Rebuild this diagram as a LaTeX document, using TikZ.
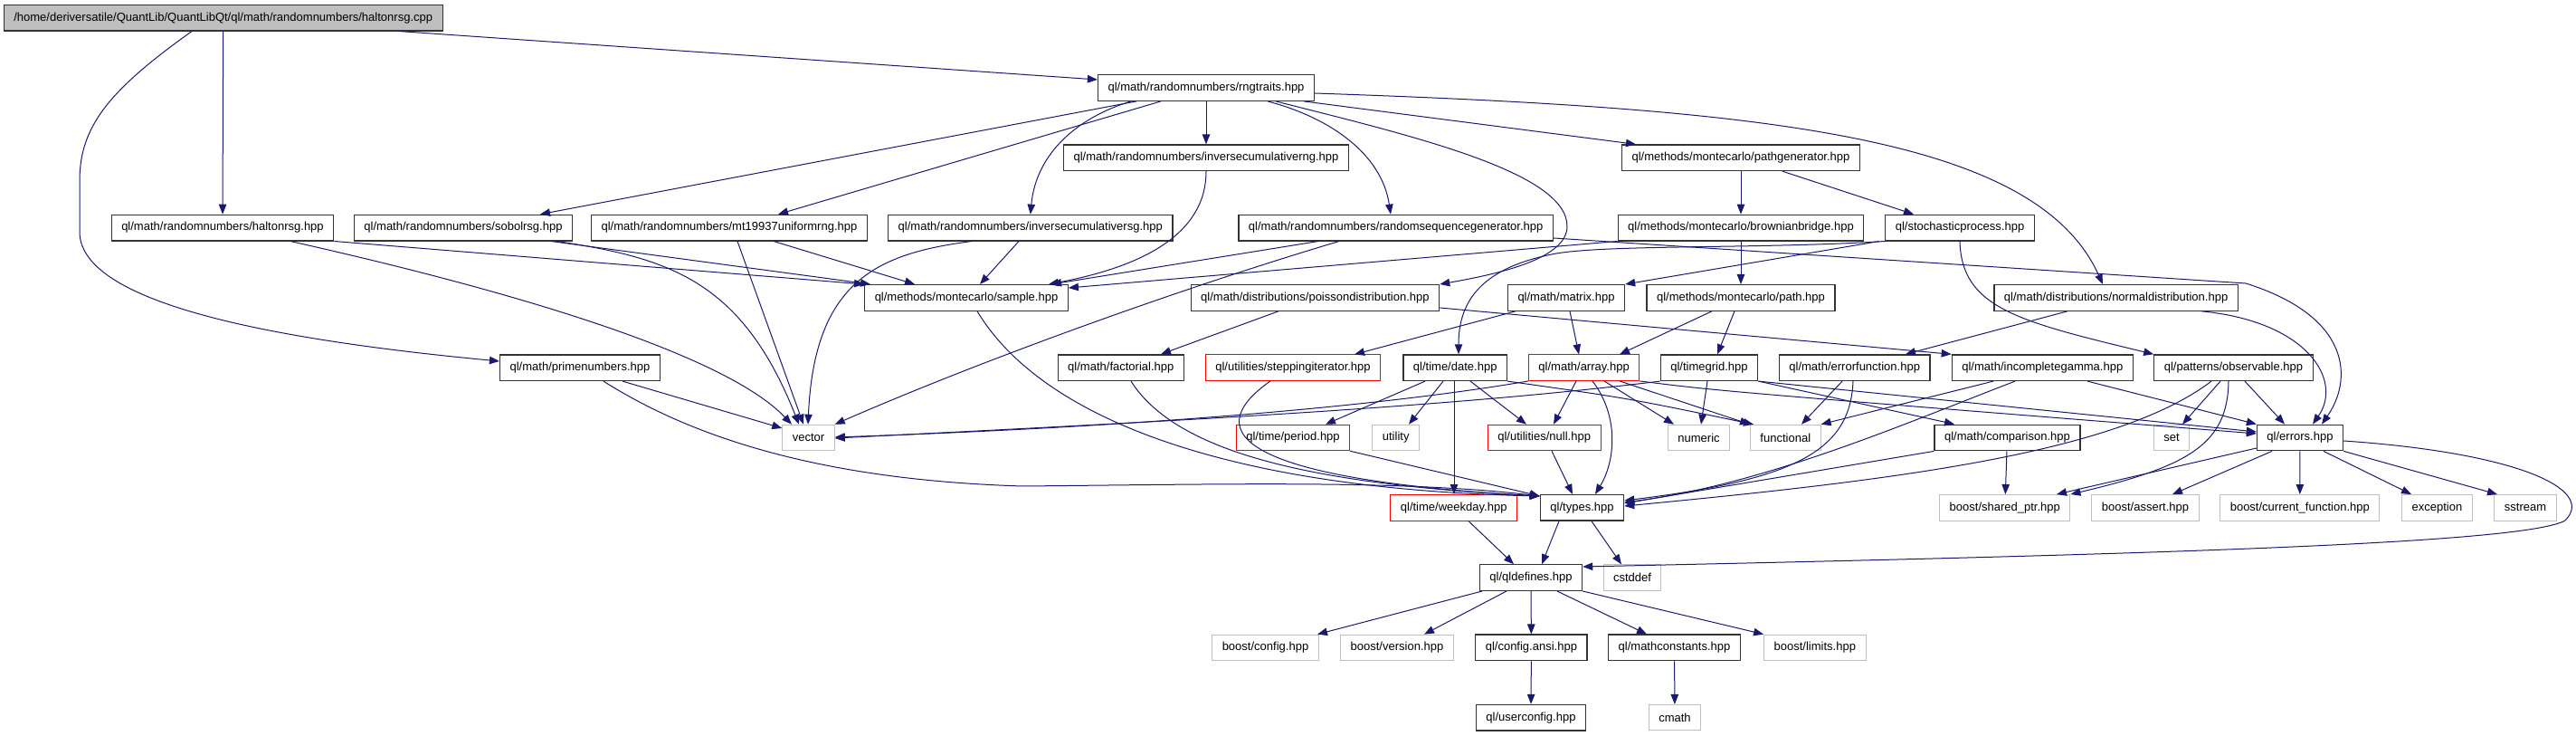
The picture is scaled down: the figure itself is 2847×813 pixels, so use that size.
\documentclass[tikz,border=0pt]{standalone}
\usepackage{fontspec}
\setmainfont{Liberation Sans}
\usetikzlibrary{arrows.meta}
\definecolor{edgeblue}{HTML}{191970}
\definecolor{sysgray}{HTML}{BFBFBF}

\begin{document}
\begin{tikzpicture}[
  x=0.01cm, y=-0.01cm,
  box/.style={draw=black!80, line width=0.013cm, rectangle, fill=white, minimum height=0.285cm, inner xsep=0.11cm, inner ysep=0pt, font=\fontsize{3.7pt}{4pt}\selectfont},
  sys/.style={box, draw=sysgray, line width=0.01cm},
  trunc/.style={box, draw=red, line width=0.01cm},
  rootbox/.style={box, fill=sysgray},
  arrow/.style={draw=edgeblue, line width=0.01cm, -{Triangle[length=0.11cm, width=0.085cm]}}
]
  \useasboundingbox (0,0) rectangle (2847,813);

  \node (root) [rootbox] at (246.7,19.7) {/home/deriversatile/QuantLib/QuantLibQt/ql/math/randomnumbers/haltonrsg.cpp};
  \node (rng) [box] at (1333,97) {ql/math/randomnumbers/rngtraits.hpp};
  \node (icrng) [box] at (1333,174.3) {ql/math/randomnumbers/inversecumulativerng.hpp};
  \node (pathgen) [box] at (1924,174.3) {ql/methods/montecarlo/pathgenerator.hpp};

  \node (halton) [box] at (246,251.6) {ql/math/randomnumbers/haltonrsg.hpp};
  \node (sobol) [box] at (512,251.6) {ql/math/randomnumbers/sobolrsg.hpp};
  \node (mt) [box] at (806,251.6) {ql/math/randomnumbers/mt19937uniformrng.hpp};
  \node (icrsg) [box] at (1138.8,251.6) {ql/math/randomnumbers/inversecumulativersg.hpp};
  \node (rsg) [box] at (1542.7,251.6) {ql/math/randomnumbers/randomsequencegenerator.hpp};
  \node (bridge) [box] at (1924,251.6) {ql/methods/montecarlo/brownianbridge.hpp};
  \node (stoch) [box] at (2166,251.6) {ql/stochasticprocess.hpp};

  \node (sample) [box] at (1068,328.9) {ql/methods/montecarlo/sample.hpp};
  \node (poisson) [box] at (1453.4,328.9) {ql/math/distributions/poissondistribution.hpp};
  \node (matrix) [box] at (1731,328.9) {ql/math/matrix.hpp};
  \node (path) [box] at (1924,328.9) {ql/methods/montecarlo/path.hpp};
  \node (normal) [box] at (2338.6,328.9) {ql/math/distributions/normaldistribution.hpp};

  \node (prime) [box] at (641,406.2) {ql/math/primenumbers.hpp};
  \node (factorial) [box] at (1238.8,406.2) {ql/math/factorial.hpp};
  \node (stepping) [trunc] at (1429,406.2) {ql/utilities/steppingiterator.hpp};
  \node (date) [box] at (1608.2,406.2) {ql/time/date.hpp};
  \node (array) [trunc] at (1750.6,406.2) {ql/math/array.hpp};
  \node (timegrid) [box] at (1889,406.2) {ql/timegrid.hpp};
  \node (erf) [box] at (2049.7,406.2) {ql/math/errorfunction.hpp};
  \node (incgamma) [box] at (2257.3,406.2) {ql/math/incompletegamma.hpp};
  \node (observable) [box] at (2468.5,406.2) {ql/patterns/observable.hpp};

  \node (vector) [sys] at (893.5,483.5) {vector};
  \node (period) [trunc] at (1429,483.5) {ql/time/period.hpp};
  \node (utility) [sys] at (1542.7,483.5) {utility};
  \node (null) [trunc] at (1706.7,483.5) {ql/utilities/null.hpp};
  \node (numeric) [sys] at (1877.5,483.5) {numeric};
  \node (functional) [sys] at (1973.3,483.5) {functional};
  \node (comparison) [box] at (2218.5,483.5) {ql/math/comparison.hpp};
  \node (set) [sys] at (2400,483.5) {set};
  \node (errors) [box] at (2542,483.5) {ql/errors.hpp};

  \node (weekday) [trunc] at (1606.7,560.8) {ql/time/weekday.hpp};
  \node (types) [box] at (1748.5,560.8) {ql/types.hpp};
  \node (sharedptr) [sys] at (2215.8,560.8) {boost/shared\_ptr.hpp};
  \node (assert) [sys] at (2371,560.8) {boost/assert.hpp};
  \node (curfunc) [sys] at (2541.8,560.8) {boost/current\_function.hpp};
  \node (exception) [sys] at (2693.4,560.8) {exception};
  \node (sstream) [sys] at (2791,560.8) {sstream};

  \node (qldefines) [box] at (1692,638.1) {ql/qldefines.hpp};
  \node (cstddef) [sys] at (1804,638.1) {cstddef};

  \node (bconfig) [sys] at (1398.5,715.4) {boost/config.hpp};
  \node (bversion) [sys] at (1544,715.4) {boost/version.hpp};
  \node (configansi) [box] at (1692.4,715.4) {ql/config.ansi.hpp};
  \node (mathconst) [box] at (1850.5,715.4) {ql/mathconstants.hpp};
  \node (blimits) [sys] at (2005.8,715.4) {boost/limits.hpp};

  \node (userconfig) [box] at (1692,792.7) {ql/userconfig.hpp};
  \node (cmath) [sys] at (1851,792.7) {cmath};

  \draw [arrow] (root) -- (halton);
  \draw [arrow] (212,0 |- root.south) .. controls (120,100) and (88,140) .. (88,200) -- (88,256) .. controls (88,340) and (330,378) .. (prime.west |- 0,399);
  \draw [arrow] (442,0 |- root.south) -- (rng.west |- 0,88);

  \draw [arrow] (1256,0 |- rng.south) -- (597,0 |- sobol.north);
  \draw [arrow] (1283,0 |- rng.south) -- (860,0 |- mt.north);
  \draw [arrow] (1250,0 |- rng.south) .. controls (1190,130) and (1145,170) .. (icrsg.north);
  \draw [arrow] (rng) -- (icrng);
  \draw [arrow] (1401,0 |- rng.south) .. controls (1470,130) and (1527,170) .. (1537,0 |- rsg.north);
  \draw [arrow] (1410,0 |- rng.south) .. controls (1560,150) and (1732,190) .. (1732,250) .. controls (1732,285) and (1660,302) .. (poisson.north east);
  \draw [arrow] (1441,0 |- rng.south) -- (1808,0 |- pathgen.north);
  \draw [arrow] (rng.east |- 0,103) .. controls (1950,120) and (2250,150) .. (2324,0 |- normal.north);

  \draw [arrow] (halton.south east) -- (sample.north west);
  \draw [arrow] (321,0 |- halton.south) .. controls (560,320) and (800,390) .. (875,0 |- vector.north);
  \draw [arrow] (609,0 |- sobol.south) -- (962,0 |- sample.north);
  \draw [arrow] (615,0 |- sobol.south) .. controls (740,285) and (820,310) .. (883,0 |- vector.north);
  \draw [arrow] (815,0 |- mt.south) -- (888,0 |- vector.north);
  \draw [arrow] (855,0 |- mt.south) -- (1011,0 |- sample.north);
  \draw [arrow] (1126,0 |- icrsg.south) -- (1083,0 |- sample.north);
  \draw [arrow] (1074,0 |- icrsg.south) .. controls (970,280) and (900,310) .. (893,0 |- vector.north);
  \draw [arrow] (icrng.south) .. controls (1333,260) and (1260,295) .. (1159,0 |- sample.north);
  \draw [arrow] (1457,0 |- rsg.south) -- (1162,0 |- sample.north);
  \draw [arrow] (1480,0 |- rsg.south) .. controls (1300,320) and (1080,400) .. (vector.north east);
  \draw [arrow] (rsg.east |- 0,263) -- (2482,313) .. controls (2600,350) and (2600,420) .. (2566,0 |- errors.north);
  \draw [arrow] (bridge.south west) -- (sample.east |- 0,318);
  \draw [arrow] (pathgen) -- (bridge);
  \draw [arrow] (bridge) -- (path);
  \draw [arrow] (1970,0 |- pathgen.south) -- (2115,0 |- stoch.north);
  \draw [arrow] (2077,0 |- stoch.south) -- (matrix.north east);
  \draw [arrow] (stoch.south west) .. controls (1950,275) and (1780,270) .. (1720,280) .. controls (1640,295) and (1612,330) .. (1612,0 |- date.north);
  \draw [arrow] (stoch.south) .. controls (2168,340) and (2230,355) .. (observable.north west);

  \draw [arrow] (2285,0 |- normal.south) -- (2106,0 |- erf.north);
  \draw [arrow] (2433,0 |- normal.south) .. controls (2550,355) and (2590,420) .. (2556,0 |- errors.north);
  \draw [arrow] (1413,0 |- poisson.south) -- (1283,0 |- factorial.north);
  \draw [arrow] (poisson.east |- 0,340) -- (incgamma.north west);
  \draw [arrow] (1675,0 |- matrix.south) -- (1497,0 |- stepping.north);
  \draw [arrow] (1735,0 |- matrix.south) -- (1745,0 |- array.north);
  \draw [arrow] (1892,0 |- path.south) -- (1790,0 |- array.north);
  \draw [arrow] (1917,0 |- path.south) -- (1898,0 |- timegrid.north);

  \draw [arrow] (1080,0 |- sample.south) .. controls (1150,460) and (1350,540) .. (types.west |- 0,548);
  \draw [arrow] (1250,0 |- factorial.south) .. controls (1300,500) and (1450,535) .. (types.west |- 0,548);
  \draw [arrow] (1404,0 |- stepping.south) .. controls (1320,480) and (1380,530) .. (types.west |- 0,548);
  \draw [arrow] (667,0 |- prime.south) .. controls (760,480) and (900,530) .. (1130,537) .. controls (1350,535) and (1550,530) .. (types.west |- 0,548);
  \draw [arrow] (688,0 |- prime.south) -- (vector.west |- 0,473);
  \draw [arrow] (period.south east) -- (types.west |- 0,548);
  \draw [arrow] (1715,0 |- null.south) -- (1738,0 |- types.north);
  \draw [arrow] (1760,0 |- array.south) .. controls (1790,460) and (1785,510) .. (1763,0 |- types.north);
  \draw [arrow] (2048,0 |- erf.south) .. controls (2045,500) and (1980,530) .. (types.east |- 0,553);
  \draw [arrow] (2227,0 |- incgamma.south) .. controls (2100,470) and (1950,535) .. (types.east |- 0,555);
  \draw [arrow] (comparison.south west) -- (types.east |- 0,556);
  \draw [arrow] (2444,0 |- observable.south) .. controls (2340,500) and (2100,530) .. (types.east |- 0,559);

  \draw [arrow] (2036,0 |- erf.south) -- (1991,0 |- functional.north);
  \draw [arrow] (2203,0 |- incgamma.south) -- (functional.north east);
  \draw [arrow] (2307,0 |- incgamma.south) -- (errors.north west);
  \draw [arrow] (comparison) -- (sharedptr);
  \draw [arrow] (timegrid.south east) -- (2160,0 |- comparison.north);
  \draw [arrow] (timegrid.south east) -- (errors.west |- 0,477);
  \draw [arrow] (array.south east) .. controls (1900,432) .. (errors.west |- 0,479);
  \draw [arrow] (array.south west) .. controls (1550,445) and (1300,470) .. (vector.east |- 0,483);
  \draw [arrow] (timegrid.south west) .. controls (1600,450) and (1300,465) .. (vector.east |- 0,484);
  \draw [arrow] (1742,0 |- array.south) -- (1717,0 |- null.north);
  \draw [arrow] (1773,0 |- array.south) -- (1850,0 |- numeric.north);
  \draw [arrow] (1790,0 |- array.south) -- (functional.north west);
  \draw [arrow] (date.south east) .. controls (1800,440) .. (1938,0 |- functional.north);
  \draw [arrow] (1887,0 |- timegrid.south) -- (1880,0 |- numeric.north);
  \draw [arrow] (1575,0 |- date.south) -- (1465,0 |- period.north);
  \draw [arrow] (1595,0 |- date.south) -- (1557,0 |- utility.north);
  \draw [arrow] (1607,0 |- date.south) -- (1607,0 |- weekday.north);
  \draw [arrow] (1625,0 |- date.south) -- (1687,0 |- null.north);

  \draw [arrow] (2454,0 |- observable.south) -- (2412,0 |- set.north);
  \draw [arrow] (2481,0 |- observable.south) -- (2525,0 |- errors.north);
  \draw [arrow] (2463,0 |- observable.south) .. controls (2462,490) and (2420,515) .. (sharedptr.north east);
  \draw [arrow] (errors.west |- 0,495) -- (2273,0 |- sharedptr.north);
  \draw [arrow] (2511,0 |- errors.south) -- (2401,0 |- assert.north);
  \draw [arrow] (errors) -- (curfunc);
  \draw [arrow] (2568,0 |- errors.south) -- (2665,0 |- exception.north);
  \draw [arrow] (errors.south east) -- (2760,0 |- sstream.north);
  \draw [arrow] (errors.east |- 0,487) .. controls (2780,500) and (2870,540) .. (2835,575) .. controls (2790,600) and (2400,612) .. (qldefines.east |- 0,626);

  \draw [arrow] (1623,0 |- weekday.south) -- (1673,0 |- qldefines.north);
  \draw [arrow] (1723,0 |- types.south) -- (1704,0 |- qldefines.north);
  \draw [arrow] (1759,0 |- types.south) -- (1792,0 |- cstddef.north);
  \draw [arrow] (1638,0 |- qldefines.south) -- (1456,0 |- bconfig.north);
  \draw [arrow] (1665,0 |- qldefines.south) -- (1574,0 |- bversion.north);
  \draw [arrow] (qldefines) -- (configansi);
  \draw [arrow] (1721,0 |- qldefines.south) -- (1820,0 |- mathconst.north);
  \draw [arrow] (qldefines.south east) -- (blimits.north west);
  \draw [arrow] (configansi) -- (userconfig);
  \draw [arrow] (mathconst) -- (cmath);
\end{tikzpicture}
\end{document}
